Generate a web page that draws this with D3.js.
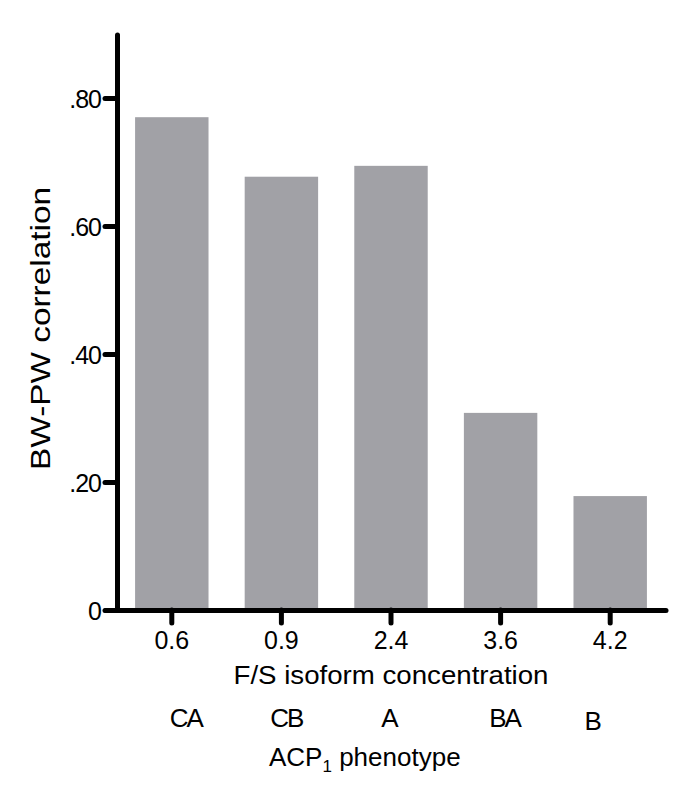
<!DOCTYPE html>
<html>
<head>
<meta charset="utf-8">
<script src="https://cdn.jsdelivr.net/npm/d3@7"></script>
<style>
  body { margin: 0; background: #fff; }
  text { font-family: "Liberation Sans", Arial, sans-serif; fill: #000; }
</style>
</head>
<body>
<div id="chart"></div>
<script>
// BW-PW correlation by F/S isoform concentration (ACP1 phenotype)

var concentrations = ["0.6", "0.9", "2.4", "3.6", "4.2"];
var phenotypes = ["CA", "CB", "A", "BA", "B"];
var correlations = [0.770, 0.677, 0.694, 0.308, 0.178];
var yTicks = [0, 0.2, 0.4, 0.6, 0.8];

// small hand nudges for the phenotype row (layout only)
var phenoShift = [14, 5, -2, 4, -18];
var phenoDrop = [0, 0, 0, 0, 3];

var width = 685, height = 785;

var svg = d3.select("#chart")
  .append("svg")
    .attr("width", width)
    .attr("height", height);

// scales
var x = d3.scaleBand()
  .domain(concentrations)
  .range([117, 665])
  .paddingInner(0.33)
  .paddingOuter(0.165);

var y = d3.scaleLinear()
  .domain([0, 0.9])
  .range([610, 34]);

var barColor = "#a1a1a6";

// bars
svg.append("g")
  .selectAll("rect")
  .data(correlations)
  .enter()
  .append("rect")
    .attr("x", function (d, i) { return x(concentrations[i]); })
    .attr("y", function (d) { return y(d); })
    .attr("width", x.bandwidth())
    .attr("height", function (d) { return y(0) - y(d); })
    .attr("fill", barColor);

// Y axis ticks + labels (".80" style, no leading zero)
var yAxis = svg.append("g")
  .attr("transform", "translate(117,0)")
  .call(d3.axisLeft(y)
    .tickValues(yTicks)
    .tickSize(12)
    .tickSizeOuter(0)
    .tickFormat(function (d) { return d === 0 ? "0" : d3.format(".2f")(d).slice(1); }));
yAxis.select(".domain").remove();
yAxis.selectAll(".tick line")
  .attr("stroke", "#000")
  .attr("stroke-width", 5)
  .attr("stroke-linecap", "round");
yAxis.selectAll(".tick text")
  .attr("x", -16)
  .attr("y", 9)
  .attr("dy", 0)
  .attr("fill", "#000")
  .attr("letter-spacing", -1)
  .style("font-size", "25px")
  .style("font-family", "'Liberation Sans', Arial, sans-serif");

// X axis ticks + labels
var xAxis = svg.append("g")
  .attr("transform", "translate(0,610)")
  .call(d3.axisBottom(x).tickSize(13).tickSizeOuter(0));
xAxis.select(".domain").remove();
xAxis.selectAll(".tick line")
  .attr("stroke", "#000")
  .attr("stroke-width", 5)
  .attr("stroke-linecap", "round");
xAxis.selectAll(".tick text")
  .attr("y", 39)
  .attr("dy", 0)
  .attr("fill", "#000")
  .style("font-size", "25px")
  .style("font-family", "'Liberation Sans', Arial, sans-serif");

// axis lines
svg.append("line")
  .attr("x1", 117.5).attr("x2", 117.5)
  .attr("y1", 35).attr("y2", y(0))
  .attr("stroke", "#000").attr("stroke-width", 5).attr("stroke-linecap", "round");
svg.append("line")
  .attr("x1", 106).attr("x2", 666)
  .attr("y1", y(0) + 0.5).attr("y2", y(0) + 0.5)
  .attr("stroke", "#000").attr("stroke-width", 5).attr("stroke-linecap", "round");

// x title
svg.append("text")
  .attr("x", 391)
  .attr("y", 684)
  .attr("text-anchor", "middle")
  .attr("textLength", 315)
  .attr("lengthAdjust", "spacingAndGlyphs")
  .style("font-size", "26px")
  .text("F/S isoform concentration");

// phenotype row
svg.append("g")
  .selectAll("text")
  .data(phenotypes)
  .enter()
  .append("text")
    .attr("x", function (d, i) { return x(concentrations[i]) + x.bandwidth() / 2 + phenoShift[i]; })
    .attr("y", function (d, i) { return 727 + phenoDrop[i]; })
    .attr("text-anchor", "middle")
    .attr("letter-spacing", -2)
    .style("font-size", "26px")
    .text(function (d) { return d; });

// ACP1 phenotype label
var acp = svg.append("text")
  .attr("x", 269)
  .attr("y", 766)
  .style("font-size", "26px");
acp.append("tspan").text("ACP");
acp.append("tspan").attr("dy", 6).style("font-size", "17px").text("1");
acp.append("tspan").attr("dy", -6).text(" phenotype");

// y title
svg.append("text")
  .attr("transform", "translate(50,328.5) rotate(-90)")
  .attr("text-anchor", "middle")
  .attr("textLength", 283)
  .attr("lengthAdjust", "spacingAndGlyphs")
  .style("font-size", "28px")
  .text("BW-PW correlation");
</script>
</body>
</html>
